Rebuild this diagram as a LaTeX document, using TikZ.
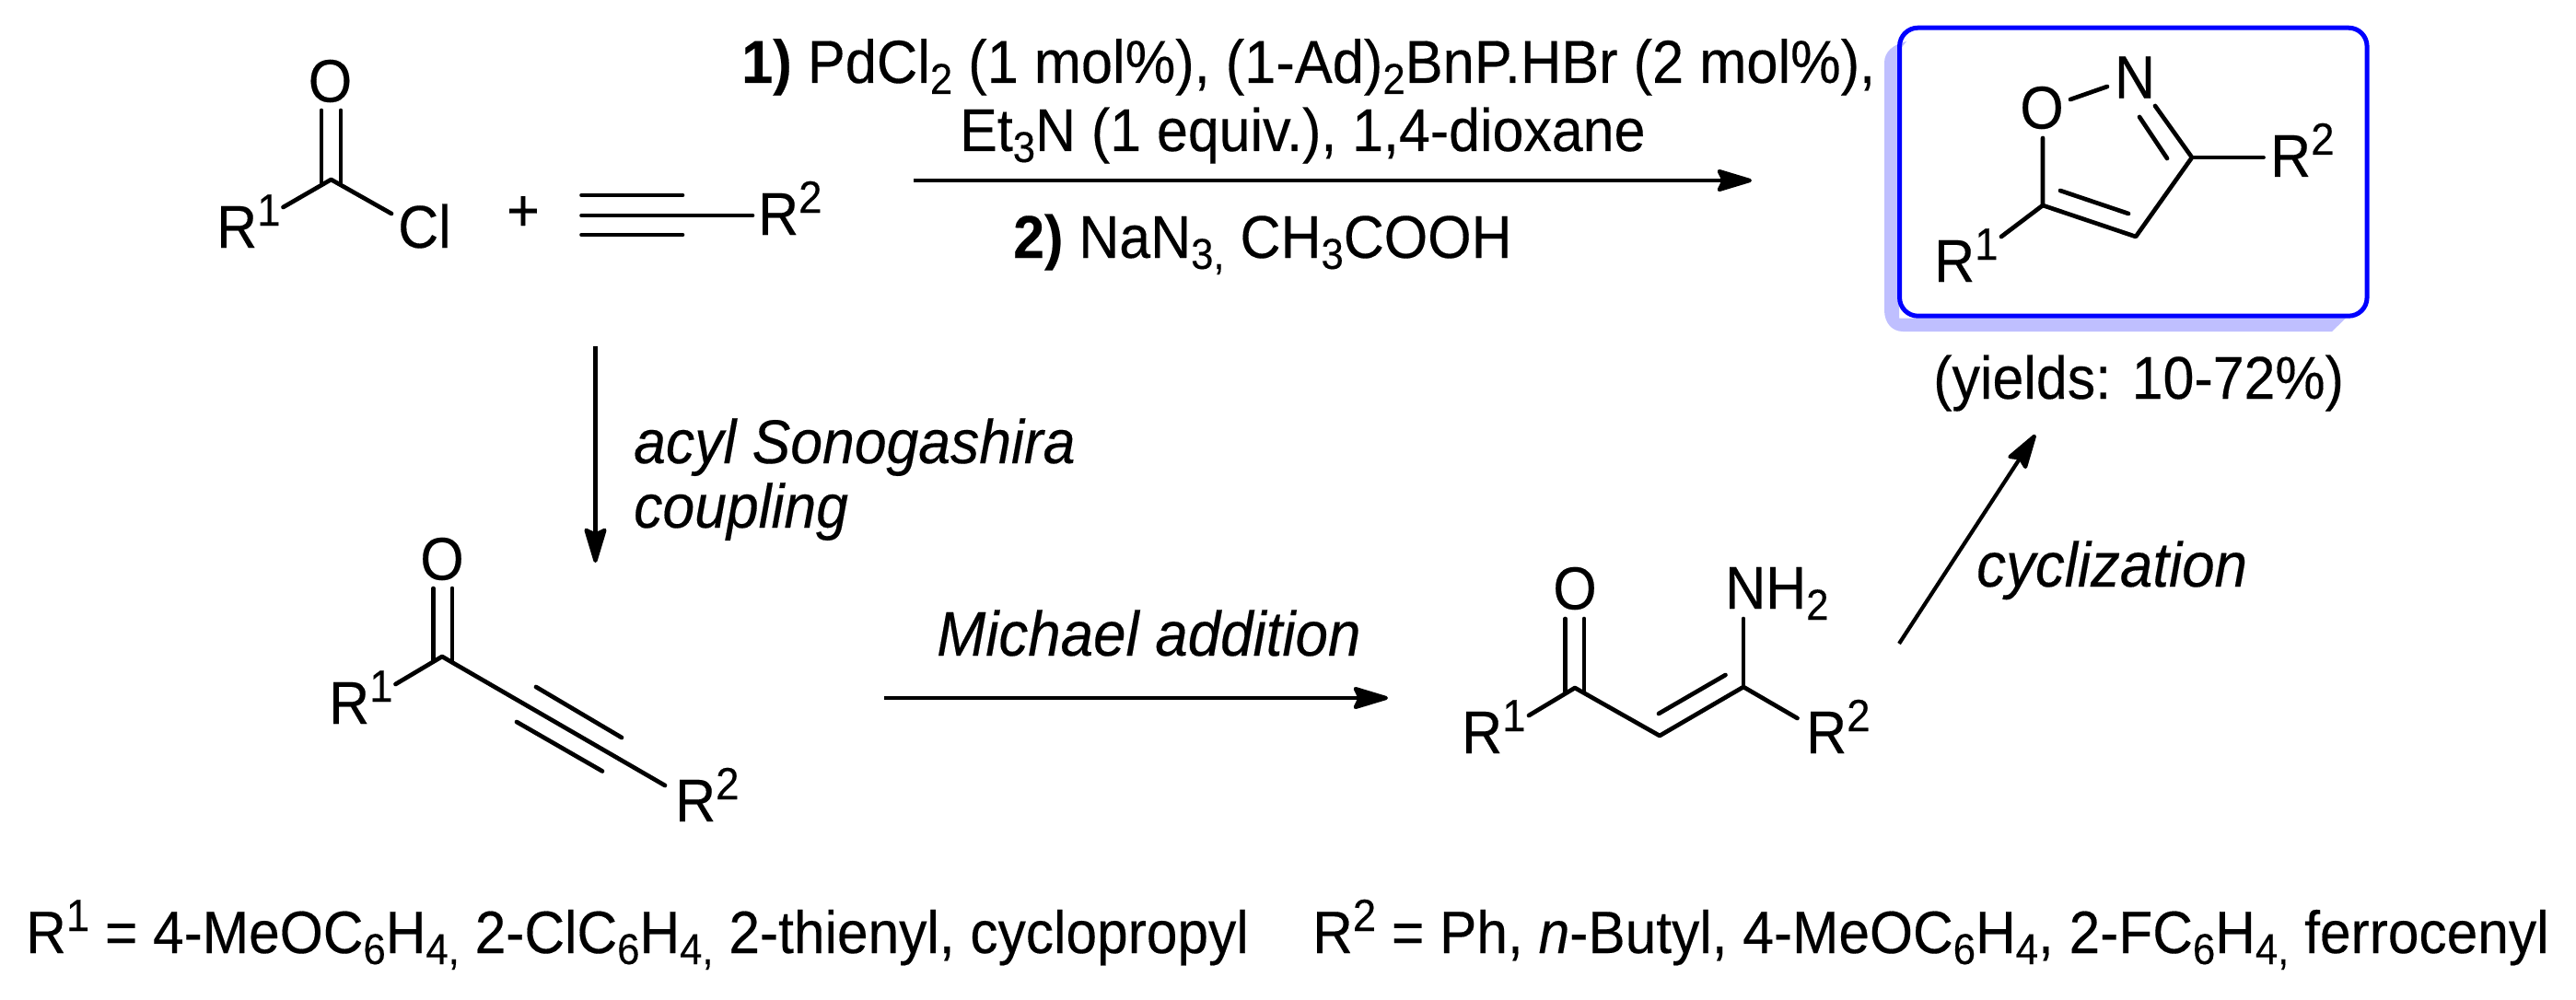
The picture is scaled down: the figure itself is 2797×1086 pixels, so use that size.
\documentclass[tikz,border=0pt]{standalone}
\usepackage{fontspec}
\setmainfont[FakeStretch=0.93,FakeBold=0.25]{Liberation Sans}
\usetikzlibrary{arrows.meta}
\newcommand{\mainsz}{\fontsize{65.5}{70}\selectfont}
\newcommand{\wideline}{\fontsize{66}{70}\selectfont}
\newcommand{\tightline}{\fontsize{65}{70}\selectfont}
\newcommand{\itsz}{\fontsize{67.2}{70}\selectfont\itshape}
\newcommand{\itwide}{\fontsize{68.5}{70}\selectfont\itshape}
\newcommand{\supsz}{\fontsize{49}{50}\selectfont}
\newcommand{\subsz}{\fontsize{47}{50}\selectfont}
\newcommand{\tosup}[1]{\raisebox{24pt}{\supsz #1}}
\newcommand{\tosub}[1]{\raisebox{-12pt}{\subsz #1}}
\definecolor{shadowblue}{RGB}{191,191,255}
\tikzset{
  lab/.style={inner sep=0pt,anchor=base west,font=\mainsz},
  atom/.style={inner sep=0pt,anchor=center,font=\mainsz},
  bond/.style={line width=4.7pt,line cap=round,line join=round,black},
  rxn/.style={line width=4.2pt,black,-{Stealth[length=44pt,width=26pt,inset=6pt,round]}},
  hitbox/.style={draw=blue,line width=5pt,rounded corners=20pt,minimum width=507.5pt,minimum height=313pt,inner sep=0pt},
}
\begin{document}
\begin{tikzpicture}[x=1pt,y=-1pt]
\useasboundingbox (0,0) rectangle (2797,1086);
\fill[white] (0,0) rectangle (2797,1086);

% highlight box with its L-shaped shadow
\fill[shadowblue] (2070,45) .. controls (2056,48) and (2046,56) .. (2046,68) -- (2046,337)
  .. controls (2046,350) and (2054,360) .. (2066,360) -- (2532,360) -- (2547,345.5)
  -- (2062,345.5) -- (2062,55) -- cycle;
\node[hitbox] (box) at (2316.3,186.7) {};

% acid chloride
\node[atom] (aO) at (358.5,88) {O};
\coordinate (aC) at (359.5,195);
\coordinate (aD1a) at (349,120); \coordinate (aD1b) at (349,199);
\coordinate (aD2a) at (370,120); \coordinate (aD2b) at (370,199);
\coordinate (aR) at (307.5,225); \coordinate (aCl) at (425,232);
\node[lab] (aR1) at (235,269) {R\tosup{1}};
\node[lab] (aClt) at (432,269) {Cl};
\draw[bond] (aD1a) -- (aD1b); \draw[bond] (aD2a) -- (aD2b);
\draw[bond] (aR) -- (aC) -- (aCl);
\node[atom] (plus) at (568,232) {+};

% alkyne
\coordinate (y1a) at (631.5,212); \coordinate (y1b) at (741,212);
\coordinate (y2a) at (631.5,234); \coordinate (y2b) at (817,234);
\coordinate (y3a) at (631.5,255); \coordinate (y3b) at (741,255);
\draw[bond] (y1a) -- (y1b); \draw[bond] (y2a) -- (y2b); \draw[bond] (y3a) -- (y3b);
\node[lab] (yR2) at (823,255) {R\tosup{2}};

% top conditions
\node[lab,font=\wideline] (c1) at (805,90) {\textbf{1)} PdCl\tosub{2} (1 mol\%), (1-Ad)\tosub{2}BnP.HBr (2 mol\%),};
\node[lab] (c2) at (1042,164) {Et\tosub{3}N (1 equiv.), 1,4-dioxane};
\node[lab] (c3) at (1100,280) {\textbf{2)} NaN\tosub{3,} CH\tosub{3}COOH};
\coordinate (t1) at (992,196); \coordinate (t2) at (1902,196);
\draw[rxn] (t1) -- (t2);

% product isoxazole
\node[atom] (pO) at (2217,117) {O};
\node[atom] (pN) at (2318,84) {N};
\coordinate (po1) at (2248,108); \coordinate (po2) at (2288,94);
\coordinate (pn1) at (2340,115); \coordinate (pC3) at (2380,171);
\coordinate (pi1) at (2323,127); \coordinate (pi2) at (2353,172);
\coordinate (pC4) at (2319,257); \coordinate (pC5) at (2218,223);
\coordinate (pj1) at (2237,207); \coordinate (pj2) at (2311,232);
\coordinate (po3) at (2218,150);
\coordinate (pr1) at (2173,257); \coordinate (pr2) at (2457.5,171);
\draw[bond] (po1) -- (po2);
\draw[bond] (pn1) -- (pC3) -- (pC4) -- (pC5) -- (po3);
\draw[bond] (pi1) -- (pi2); \draw[bond] (pj1) -- (pj2);
\draw[bond] (pC5) -- (pr1); \draw[bond] (pC3) -- (pr2);
\node[lab] (pR2) at (2465,192) {R\tosup{2}};
\node[lab] (pR1) at (2100,306) {R\tosup{1}};
\node[lab] (yld) at (2099,433) {(yields: 10-72\%)};

% acyl Sonogashira arrow
\coordinate (s1) at (646.5,376); \coordinate (s2) at (646.5,611);
\draw[rxn] (s1) -- (s2);
\node[lab,font=\itsz] (s3) at (688,503) {acyl Sonogashira};
\node[lab,font=\itsz] (s4) at (688,573) {coupling};

% ynone
\node[atom] (bO) at (480,607) {O};
\coordinate (bC) at (480,713);
\coordinate (bD1a) at (470.5,639); \coordinate (bD1b) at (470.5,718);
\coordinate (bD2a) at (491,639); \coordinate (bD2b) at (491,718);
\coordinate (bR) at (429.5,743); \coordinate (bE) at (722,853);
\coordinate (bU1) at (582,746); \coordinate (bU2) at (675,801);
\coordinate (bL1) at (561,784); \coordinate (bL2) at (654,837.5);
\draw[bond] (bD1a) -- (bD1b); \draw[bond] (bD2a) -- (bD2b);
\draw[bond] (bR) -- (bC) -- (bE);
\draw[bond] (bU1) -- (bU2); \draw[bond] (bL1) -- (bL2);
\node[lab] (bR1) at (357,786) {R\tosup{1}};
\node[lab] (bR2) at (733,892) {R\tosup{2}};

% Michael arrow
\coordinate (m1) at (960,758); \coordinate (m2) at (1507,758);
\draw[rxn] (m1) -- (m2);
\node[lab,font=\itwide] (mt) at (1017,712) {Michael addition};

% enaminone
\node[atom] (eO) at (1710,639) {O};
\coordinate (eC) at (1710,747);
\coordinate (eD1a) at (1699.5,672); \coordinate (eD1b) at (1699.5,751);
\coordinate (eD2a) at (1720,672); \coordinate (eD2b) at (1720,751);
\coordinate (eR) at (1660,777); \coordinate (eCH) at (1802,799);
\coordinate (eCN) at (1893,746); \coordinate (eI1) at (1801,775); \coordinate (eI2) at (1873.5,733);
\coordinate (eN) at (1893,672); \coordinate (eR2b) at (1951.5,780);
\draw[bond] (eD1a) -- (eD1b); \draw[bond] (eD2a) -- (eD2b);
\draw[bond] (eR) -- (eC) -- (eCH) -- (eCN) -- (eR2b);
\draw[bond] (eI1) -- (eI2); \draw[bond] (eCN) -- (eN);
\node[lab] (eR1t) at (1587,818) {R\tosup{1}};
\node[lab] (eR2t) at (1961,818) {R\tosup{2}};
\node[lab] (eNH) at (1873,661) {NH\tosub{2}};

% cyclization arrow
\coordinate (z1) at (2062,699); \coordinate (z2) at (2210,472);
\draw[rxn] (z1) -- (z2);
\node[lab,font=\itwide] (zt) at (2146,637) {cyclization};

% substituents
\node[lab,font=\tightline] (lr1) at (28,1035) {R\tosup{1} = 4-MeOC\tosub{6}H\tosub{4,} 2-ClC\tosub{6}H\tosub{4,} 2-thienyl, cyclopropyl};
\node[lab,font=\tightline] (lr2) at (1425,1035) {R\tosup{2} = Ph, \textit{n}-Butyl, 4-MeOC\tosub{6}H\tosub{4}, 2-FC\tosub{6}H\tosub{4,} ferrocenyl};
\end{tikzpicture}
\end{document}
